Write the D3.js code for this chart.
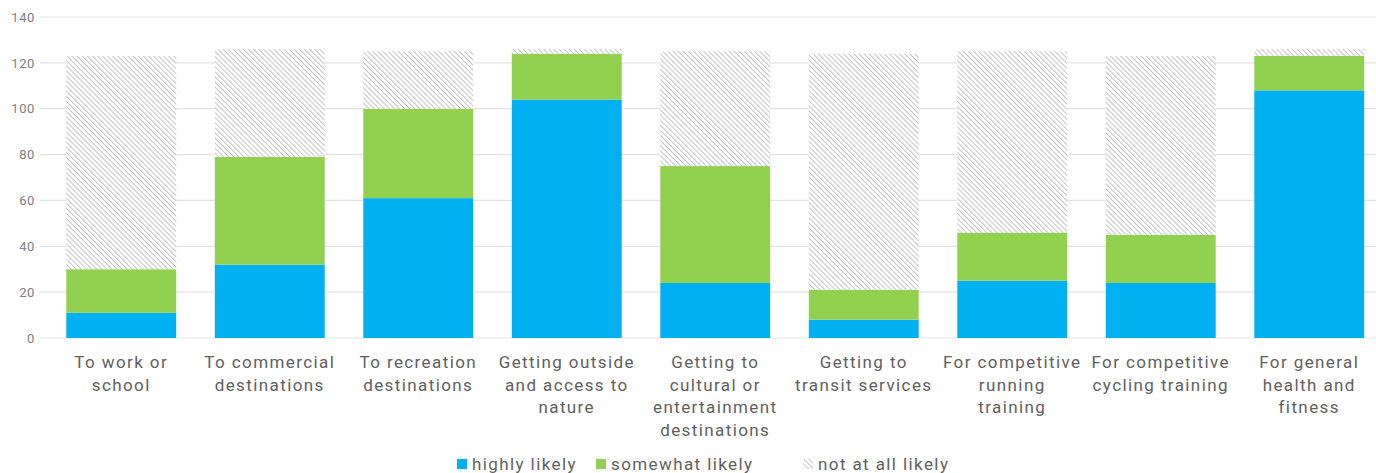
<!DOCTYPE html>
<html>
<head>
<meta charset="utf-8">
<script src="https://cdn.jsdelivr.net/npm/d3@7"></script>
<style>
  html, body { margin: 0; padding: 0; background: #fff; }
  svg { display: block; }
</style>
</head>
<body>
<svg id="chart" width="1376" height="473"></svg>
<script>
// Reasons for travel and how likely respondents are to make them
const categories = [
  ["To work or", "school"],
  ["To commercial", "destinations"],
  ["To recreation", "destinations"],
  ["Getting outside", "and access to", "nature"],
  ["Getting to", "cultural or", "entertainment", "destinations"],
  ["Getting to", "transit services"],
  ["For competitive", "running", "training"],
  ["For competitive", "cycling training"],
  ["For general", "health and", "fitness"]
];
const highlyLikely   = [11, 32, 61, 104, 24, 8, 25, 24, 108];
const somewhatLikely = [19, 47, 39, 20, 51, 13, 21, 21, 15];
const notAtAllLikely = [93, 47, 25, 2, 50, 103, 79, 78, 3];
const yTicks = [0, 20, 40, 60, 80, 100, 120, 140];
const seriesNames = ["highly likely", "somewhat likely", "not at all likely"];

const svg = d3.select("#chart");
const fontFamily = "Roboto, 'Open Sans', sans-serif";

const x = d3.scaleBand()
  .domain(d3.range(categories.length))
  .range([47, 1383.5])
  .paddingInner(0.26)
  .paddingOuter(0.13);

const y = d3.scaleLinear().domain([0, 140]).range([338, 17]);

// hatch pattern for "not at all likely" (stripes running top-left to bottom-right)
const defs = svg.append("defs");
const pat = defs.append("pattern")
  .attr("id", "hatch")
  .attr("patternUnits", "userSpaceOnUse")
  .attr("width", 3.6).attr("height", 3.6)
  .attr("patternTransform", "rotate(-45)");
pat.append("rect").attr("width", 3.6).attr("height", 3.6).attr("fill", "#fff");
pat.append("line")
  .attr("x1", 0).attr("y1", 0).attr("x2", 0).attr("y2", 3.6)
  .attr("stroke", "#b8b8b8").attr("stroke-width", 1.6);

// grid + y axis
const yAxis = d3.axisLeft(y).tickValues(yTicks).tickSize(0).tickPadding(0);
const gy = svg.append("g").attr("transform", "translate(35,0)").call(yAxis);
gy.select(".domain").remove();
gy.selectAll("text")
  .attr("fill", "#808080")
  .style("font-family", fontFamily)
  .style("font-size", "13px")
  .style("letter-spacing", "0.6px");

svg.append("g").selectAll("line")
  .data(yTicks)
  .join("line")
  .attr("x1", 40).attr("x2", 1376)
  .attr("y1", d => y(d)).attr("y2", d => y(d))
  .attr("stroke", "#e3e3e3").attr("stroke-width", 1.2);

// stacked bars
const rows = categories.map((c, i) => ({
  i,
  "highly likely": highlyLikely[i],
  "somewhat likely": somewhatLikely[i],
  "not at all likely": notAtAllLikely[i]
}));
const stack = d3.stack().keys(seriesNames)(rows);
const fills = {
  "highly likely": "#00b0f0",
  "somewhat likely": "#92d050",
  "not at all likely": "url(#hatch)"
};

svg.append("g").selectAll("g")
  .data(stack)
  .join("g")
  .attr("fill", d => fills[d.key])
  .selectAll("rect")
  .data(d => d)
  .join("rect")
  .attr("x", d => x(d.data.i))
  .attr("width", x.bandwidth())
  .attr("y", d => y(d[1]))
  .attr("height", d => y(d[0]) - y(d[1]));

// category labels
const lab = svg.append("g").selectAll("text")
  .data(categories)
  .join("text")
  .attr("x", (d, i) => x(i) + x.bandwidth() / 2)
  .attr("y", 368)
  .attr("text-anchor", "middle")
  .attr("fill", "#606060")
  .style("font-family", fontFamily)
  .style("font-size", "17px")
  .style("letter-spacing", "1.4px");
lab.selectAll("tspan")
  .data(d => d)
  .join("tspan")
  .attr("x", function () { return d3.select(this.parentNode).attr("x"); })
  .attr("dy", (d, j) => j === 0 ? 0 : 22.5)
  .text(d => d);

// legend
const legend = svg.append("g");
const legendItems = [
  { name: "highly likely", x: 457, fill: "#00b0f0" },
  { name: "somewhat likely", x: 596, fill: "#92d050" },
  { name: "not at all likely", x: 803, fill: "url(#hatch)" }
];
const li = legend.selectAll("g").data(legendItems).join("g")
  .attr("transform", d => `translate(${d.x},459)`);
li.append("rect")
  .attr("width", 10).attr("height", 10)
  .attr("fill", d => d.fill);
li.append("text")
  .attr("x", 15).attr("y", 10.5)
  .attr("fill", "#606060")
  .style("font-family", fontFamily)
  .style("font-size", "17px")
  .style("letter-spacing", "1.4px")
  .text(d => d.name);
</script>
</body>
</html>
